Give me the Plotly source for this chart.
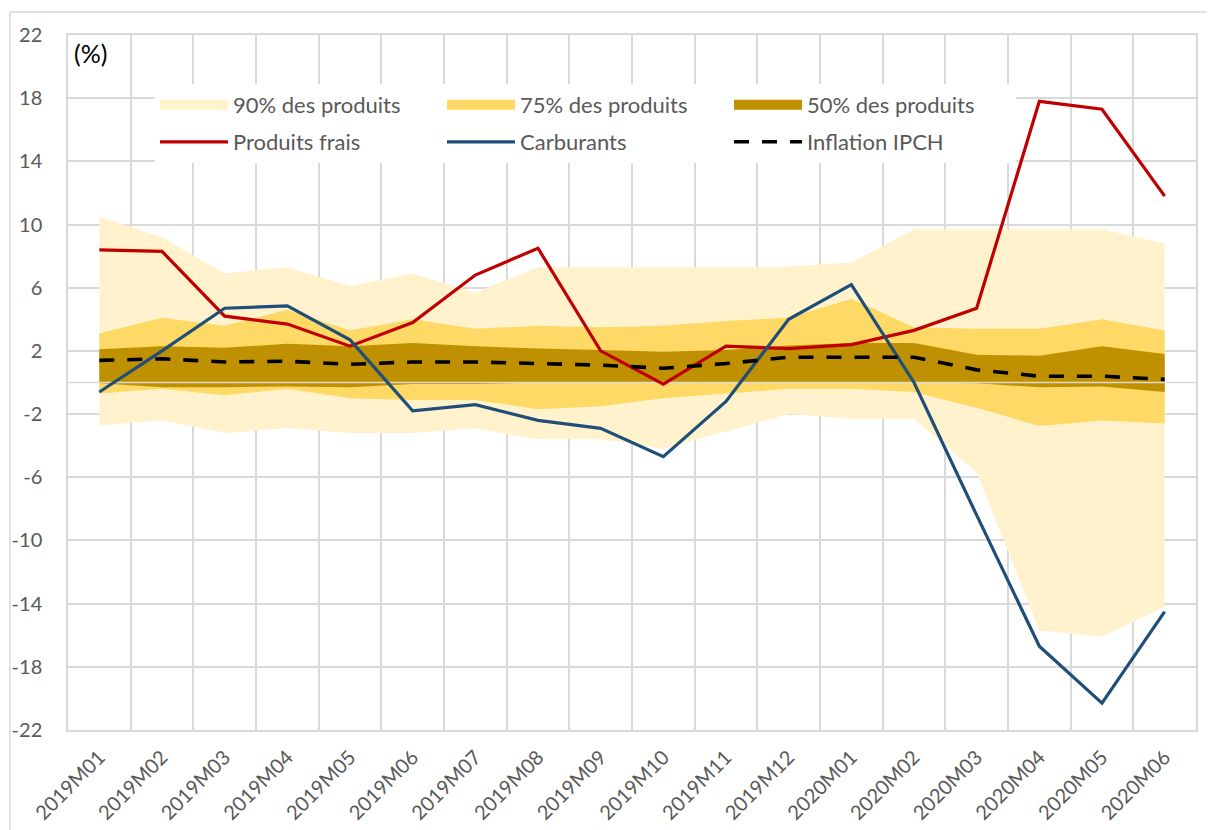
import plotly.graph_objects as go

# ---------------- data ----------------
categories = ["2019M01", "2019M02", "2019M03", "2019M04", "2019M05", "2019M06",
              "2019M07", "2019M08", "2019M09", "2019M10", "2019M11", "2019M12",
              "2020M01", "2020M02", "2020M03", "2020M04", "2020M05", "2020M06"]

band90_hi = [10.5, 9.2, 6.9, 7.3, 6.1, 6.9, 5.7, 7.3, 7.3, 7.3, 7.3, 7.35, 7.6, 9.7, 9.7, 9.7, 9.7, 8.8]
band90_lo = [-2.7, -2.4, -3.2, -2.9, -3.2, -3.2, -2.9, -3.6, -3.6, -4.2, -3.1, -2.0, -2.3, -2.3, -5.7, -15.7, -16.1, -14.2]
band75_hi = [3.1, 4.1, 3.6, 4.6, 3.3, 4.0, 3.4, 3.6, 3.5, 3.6, 3.9, 4.1, 5.3, 3.5, 3.4, 3.4, 4.0, 3.3]
band75_lo = [-0.7, -0.4, -0.8, -0.4, -1.0, -1.1, -1.1, -1.7, -1.5, -1.0, -0.7, -0.4, -0.4, -0.6, -1.6, -2.75, -2.4, -2.6]
band50_hi = [2.1, 2.3, 2.2, 2.45, 2.3, 2.5, 2.3, 2.15, 2.05, 1.95, 2.05, 2.35, 2.5, 2.5, 1.75, 1.7, 2.3, 1.8]
band50_lo = [-0.05, -0.3, -0.3, -0.25, -0.3, -0.1, -0.1, 0.0, 0.0, 0.0, 0.0, 0.0, 0.0, 0.0, -0.05, -0.3, -0.25, -0.6]

produits_frais = [8.4, 8.3, 4.2, 3.7, 2.3, 3.8, 6.8, 8.5, 2.0, -0.1, 2.3, 2.15, 2.4, 3.3, 4.7, 17.8, 17.3, 11.8]
carburants = [-0.6, 2.0, 4.7, 4.85, 2.7, -1.8, -1.4, -2.4, -2.9, -4.7, -1.2, 4.0, 6.2, 0.0, -8.4, -16.7, -20.3, -14.5]
inflation_ipch = [1.4, 1.5, 1.3, 1.35, 1.15, 1.3, 1.3, 1.2, 1.1, 0.9, 1.2, 1.6, 1.6, 1.6, 0.8, 0.4, 0.4, 0.2]

y_tickvals = [22, 18, 14, 10, 6, 2, -2, -6, -10, -14, -18, -22]
y_ticktext = ["22", "18", "14", "10", "6", "2", "-2", "-6", "-10", "-14", "-18", "-22"]

# ---------------- styling ----------------
FONT = "Lato, Carlito, Calibri, sans-serif"
GRID = "#d9d9d9"
TXT = "#595959"
C90, C75, C50 = "#FFF2CC", "#FFD966", "#BF9000"
RED, BLUE = "#C00000", "#1F4E79"

OFF = 8                      # page body margin
W, H = 1215 - OFF, 830 - OFF
PL, PR, PT, PB = 68, 1196, 35, 730   # plot area in page pixels
ML, MR, MT, MB = PL - OFF, W - (PR - OFF), PT - OFF, H - (PB - OFF)

idx = list(range(len(categories)))
ridx = idx[::-1]

fig = go.Figure()

def band(hi, lo, color, name):
    fig.add_trace(go.Scatter(
        x=idx + ridx, y=hi + lo[::-1], fill="toself", fillcolor=color,
        mode="lines", line=dict(width=0, color=color), hoverinfo="skip",
        showlegend=False, name=name))

band(band90_hi, band90_lo, C90, "90% des produits")
band(band75_hi, band75_lo, C75, "75% des produits")
band(band50_hi, band50_lo, C50, "50% des produits")

# horizontal axis line at 0 (drawn over the bands)
fig.add_trace(go.Scatter(x=[idx[0] - 0.5, idx[-1] + 0.5], y=[0, 0], mode="lines",
                         line=dict(color=GRID, width=1.6), hoverinfo="skip", showlegend=False))

fig.add_trace(go.Scatter(x=idx, y=produits_frais, mode="lines", name="Produits frais",
                         line=dict(color=RED, width=3.2), legend="legend2"))
fig.add_trace(go.Scatter(x=idx, y=carburants, mode="lines", name="Carburants",
                         line=dict(color=BLUE, width=3.2), legend="legend2"))
fig.add_trace(go.Scatter(x=idx, y=inflation_ipch, mode="lines", name="Inflation IPCH",
                         line=dict(color="black", width=3.6, dash="15px,13px"), legend="legend2"))

# legend entries for the bands
for name, color in [("90% des produits", C90), ("75% des produits", C75), ("50% des produits", C50)]:
    fig.add_trace(go.Scatter(x=[None], y=[None], mode="lines", name=name,
                             line=dict(color=color, width=10), legend="legend"))

pw = W - ML - MR
ph = H - MT - MB

def px_x(p):   # page px -> paper
    return (p - OFF - ML) / pw

def px_y(p):
    return (H - MB - (p - OFF)) / ph

legend_common = dict(
    orientation="h", xanchor="left", yanchor="middle",
    bgcolor="white", borderwidth=0,
    font=dict(family=FONT, size=22, color=TXT),
    itemwidth=68, entrywidth=204, entrywidthmode="pixels",
    traceorder="normal",
)

fig.update_layout(
    width=W, height=H,
    margin=dict(l=ML, r=MR, t=MT, b=MB, autoexpand=False),
    paper_bgcolor="white", plot_bgcolor="white",
    template="none",
    font=dict(family=FONT, size=20, color=TXT),
    showlegend=True,
    legend=dict(x=px_x(155), y=px_y(105), **legend_common),
    legend2=dict(x=px_x(155), y=px_y(142), **legend_common),
    xaxis=dict(
        range=[-0.5, len(categories) - 0.5],
        tickmode="array", tickvals=idx, ticktext=categories,
        tickangle=-45, tickfont=dict(family=FONT, size=20, color=TXT),
        showgrid=False, zeroline=False, ticks="",
        showline=True, mirror=True, linecolor=GRID, linewidth=1.5,
        minor=dict(tickmode="array", tickvals=[i - 0.5 for i in idx] + [idx[-1] + 0.5],
                   showgrid=True, gridcolor=GRID, gridwidth=1.5, ticks=""),
        ticklabelstandoff=6, automargin=False,
    ),
    yaxis=dict(
        range=[-22, 22],
        tickmode="array", tickvals=y_tickvals, ticktext=y_ticktext,
        tickfont=dict(family=FONT, size=20, color=TXT),
        showgrid=True, gridcolor=GRID, gridwidth=1.5, zeroline=False, ticks="",
        showline=True, mirror=True, linecolor=GRID, linewidth=1.5,
        ticklabelstandoff=20, automargin=False,
    ),
    annotations=[dict(text="(%)", xref="paper", yref="paper", x=px_x(72), y=px_y(53),
                      xanchor="left", yanchor="middle", showarrow=False,
                      font=dict(family=FONT, size=25, color="black"))],
    shapes=[dict(type="rect", xref="paper", yref="paper",
                 x0=px_x(10), x1=px_x(1240), y0=px_y(850), y1=px_y(12),
                 line=dict(color=GRID, width=1.5), fillcolor="rgba(0,0,0,0)", layer="below")],
)

fig.write_html("out.html")
